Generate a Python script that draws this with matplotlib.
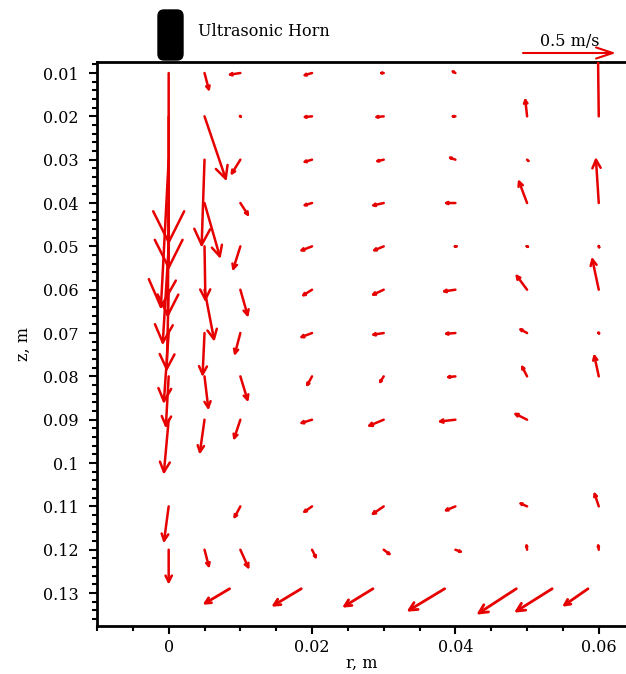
import numpy as np
import matplotlib
matplotlib.use('Agg')
import matplotlib.pyplot as plt
import matplotlib.patches as mpatches
import matplotlib.transforms as mtransforms
from matplotlib.ticker import MultipleLocator

plt.rcParams['font.family'] = ['DejaVu Serif']

# grid of probe points (r, z in m)
r_cols = [0.0, 0.005, 0.01, 0.02, 0.03, 0.04, 0.05, 0.06]
z_rows = [0.01, 0.02, 0.03, 0.04, 0.05, 0.06, 0.07, 0.08, 0.09, 0.11, 0.12]

# radial velocity u (m/s), one row per z level, None = no vector
u_grid = [
    [0.0, 0.027, -0.071, -0.054, -0.027, -0.027, None, None],
    [0.0, 0.120, 0.011, -0.054, -0.054, -0.027, -0.011, -0.005],
    [-0.043, -0.016, -0.054, -0.054, -0.049, -0.043, -0.005, None],
    [-0.005, 0.087, 0.049, -0.054, -0.071, -0.065, -0.049, -0.016],
    [-0.033, 0.005, -0.043, -0.071, -0.065, -0.011, -0.011, -0.005],
    [-0.011, 0.054, 0.043, -0.060, -0.071, -0.076, -0.065, -0.038],
    [-0.027, -0.011, -0.033, -0.071, -0.071, -0.065, -0.049, -0.011],
    [-0.016, 0.022, 0.043, -0.033, -0.027, -0.054, -0.033, -0.027],
    [-0.027, -0.027, -0.038, -0.071, -0.092, -0.098, -0.076, None],
    [-0.027, None, -0.038, -0.054, -0.071, -0.065, -0.049, -0.027],
    [0.0, 0.027, 0.049, 0.027, 0.043, 0.043, -0.005, -0.005],
]
# axial velocity w (m/s), positive = towards larger z (downwards)
w_grid = [
    [0.935, 0.103, 0.011, 0.016, 0.0, -0.016, None, None],
    [0.837, 0.353, 0.011, 0.005, 0.005, 0.0, -0.103, -0.400],
    [0.815, 0.478, 0.087, 0.016, 0.011, -0.016, -0.005, None],
    [0.625, 0.304, 0.076, 0.016, 0.016, 0.0, -0.130, -0.250],
    [0.538, 0.304, 0.136, 0.027, 0.027, 0.0, -0.005, -0.011],
    [0.446, 0.283, 0.152, 0.038, 0.033, 0.011, -0.087, -0.179],
    [0.386, 0.239, 0.125, 0.027, 0.011, 0.005, -0.027, -0.011],
    [0.283, 0.185, 0.141, 0.060, 0.043, 0.005, -0.065, -0.125],
    [0.299, 0.190, 0.114, 0.022, 0.038, 0.011, -0.038, None],
    [0.201, None, 0.071, 0.038, 0.049, 0.027, -0.022, -0.082],
    [0.190, 0.103, 0.109, 0.054, 0.033, 0.016, -0.038, -0.038],
]

# vectors near the bottom wall
r_wall = [0.0085, 0.0185, 0.0285, 0.0385, 0.0485, 0.0535, 0.0585]
z_wall = 0.129
u_wall = [-0.147, -0.163, -0.168, -0.207, -0.217, -0.207, -0.141]
w_wall = [0.087, 0.098, 0.103, 0.125, 0.141, 0.130, 0.098]

r_ticks = [0, 0.02, 0.04, 0.06]
r_ticklabels = ['0', '0.02', '0.04', '0.06']
z_ticks = [0.01, 0.02, 0.03, 0.04, 0.05, 0.06, 0.07, 0.08, 0.09, 0.1, 0.11, 0.12, 0.13]
z_ticklabels = ['0.01', '0.02', '0.03', '0.04', '0.05', '0.06', '0.07', '0.08',
                '0.09', '0.1', '0.11', '0.12', '0.13']

ref_speed = 0.5
dpi = 100
W, H = 626, 674
px_per_ms = 92 / ref_speed   # arrow length in pixels for 1 m/s
red = '#e60000'

fig = plt.figure(figsize=(W / dpi, H / dpi), dpi=dpi)
ax = fig.add_axes([97 / W, (H - 626) / H, (W - 97) / W, (626 - 62) / H])


def draw_arrow(r, z, u, w, lw=1.8):
    dx = u * px_per_ms
    dy = -w * px_per_ms   # z axis is inverted on screen
    L = np.hypot(dx, dy)
    hl = 0.18 * L * 72 / dpi
    hw = hl / 2
    ax.annotate('', xy=(r, z), xytext=(dx, dy), textcoords='offset pixels',
                arrowprops=dict(arrowstyle=f'<-,head_length={hl:.3f},head_width={hw:.3f}',
                                color=red, lw=lw, shrinkA=0, shrinkB=0,
                                mutation_scale=1, clip_box=ax.bbox))


for i, z in enumerate(z_rows):
    for j, r in enumerate(r_cols):
        if u_grid[i][j] is None:
            continue
        draw_arrow(r, z, u_grid[i][j], w_grid[i][j])

for r, u, w in zip(r_wall, u_wall, w_wall):
    draw_arrow(r, z_wall, u, w, lw=2.0)

ax.set_xlim(-0.01, 0.0638)
ax.set_ylim(0.1376, 0.00746)
ax.set_xticks(r_ticks)
ax.set_xticklabels(r_ticklabels)
ax.set_yticks(z_ticks)
ax.set_yticklabels(z_ticklabels)
ax.xaxis.set_minor_locator(MultipleLocator(0.005))
ax.yaxis.set_minor_locator(MultipleLocator(0.002))
ax.tick_params(which='both', direction='out', top=False, right=False, width=1.5,
               labelsize=11.5)
ax.tick_params(which='major', length=6)
ax.tick_params(which='minor', length=3.5)
ax.tick_params(axis='y', which='major', pad=7)
ax.tick_params(axis='x', which='major', pad=3)
ax.spines['right'].set_visible(False)
for s in ['left', 'top', 'bottom']:
    ax.spines[s].set_linewidth(2)
ax.set_xlabel('r, m', fontsize=11.5)
ax.xaxis.set_label_coords(0.5, -(655 - 626) / 564)
ax.set_ylabel('z, m', fontsize=11.5, labelpad=8)

# ultrasonic horn sketch above the axis
horn = mpatches.FancyBboxPatch((158, H - 60), 25, 50,
                               boxstyle='round,pad=0,rounding_size=6',
                               transform=mtransforms.IdentityTransform(),
                               fc='black', ec='black')
fig.add_artist(horn)
fig.text(198, H - 31, 'Ultrasonic Horn', transform=mtransforms.IdentityTransform(),
         fontsize=11.5, va='center', ha='left')

# reference vector
ax.annotate('', xy=(616, H - 53), xycoords='figure pixels',
            xytext=(523, H - 53), textcoords='figure pixels',
            arrowprops=dict(arrowstyle='->,head_length=12,head_width=4',
                            color=red, lw=1.5, shrinkA=0, shrinkB=0,
                            mutation_scale=1))
fig.text(570, H - 41, f'{ref_speed} m/s', transform=mtransforms.IdentityTransform(),
         fontsize=11.5, va='center', ha='center')

fig.savefig('out.png', dpi=dpi)
